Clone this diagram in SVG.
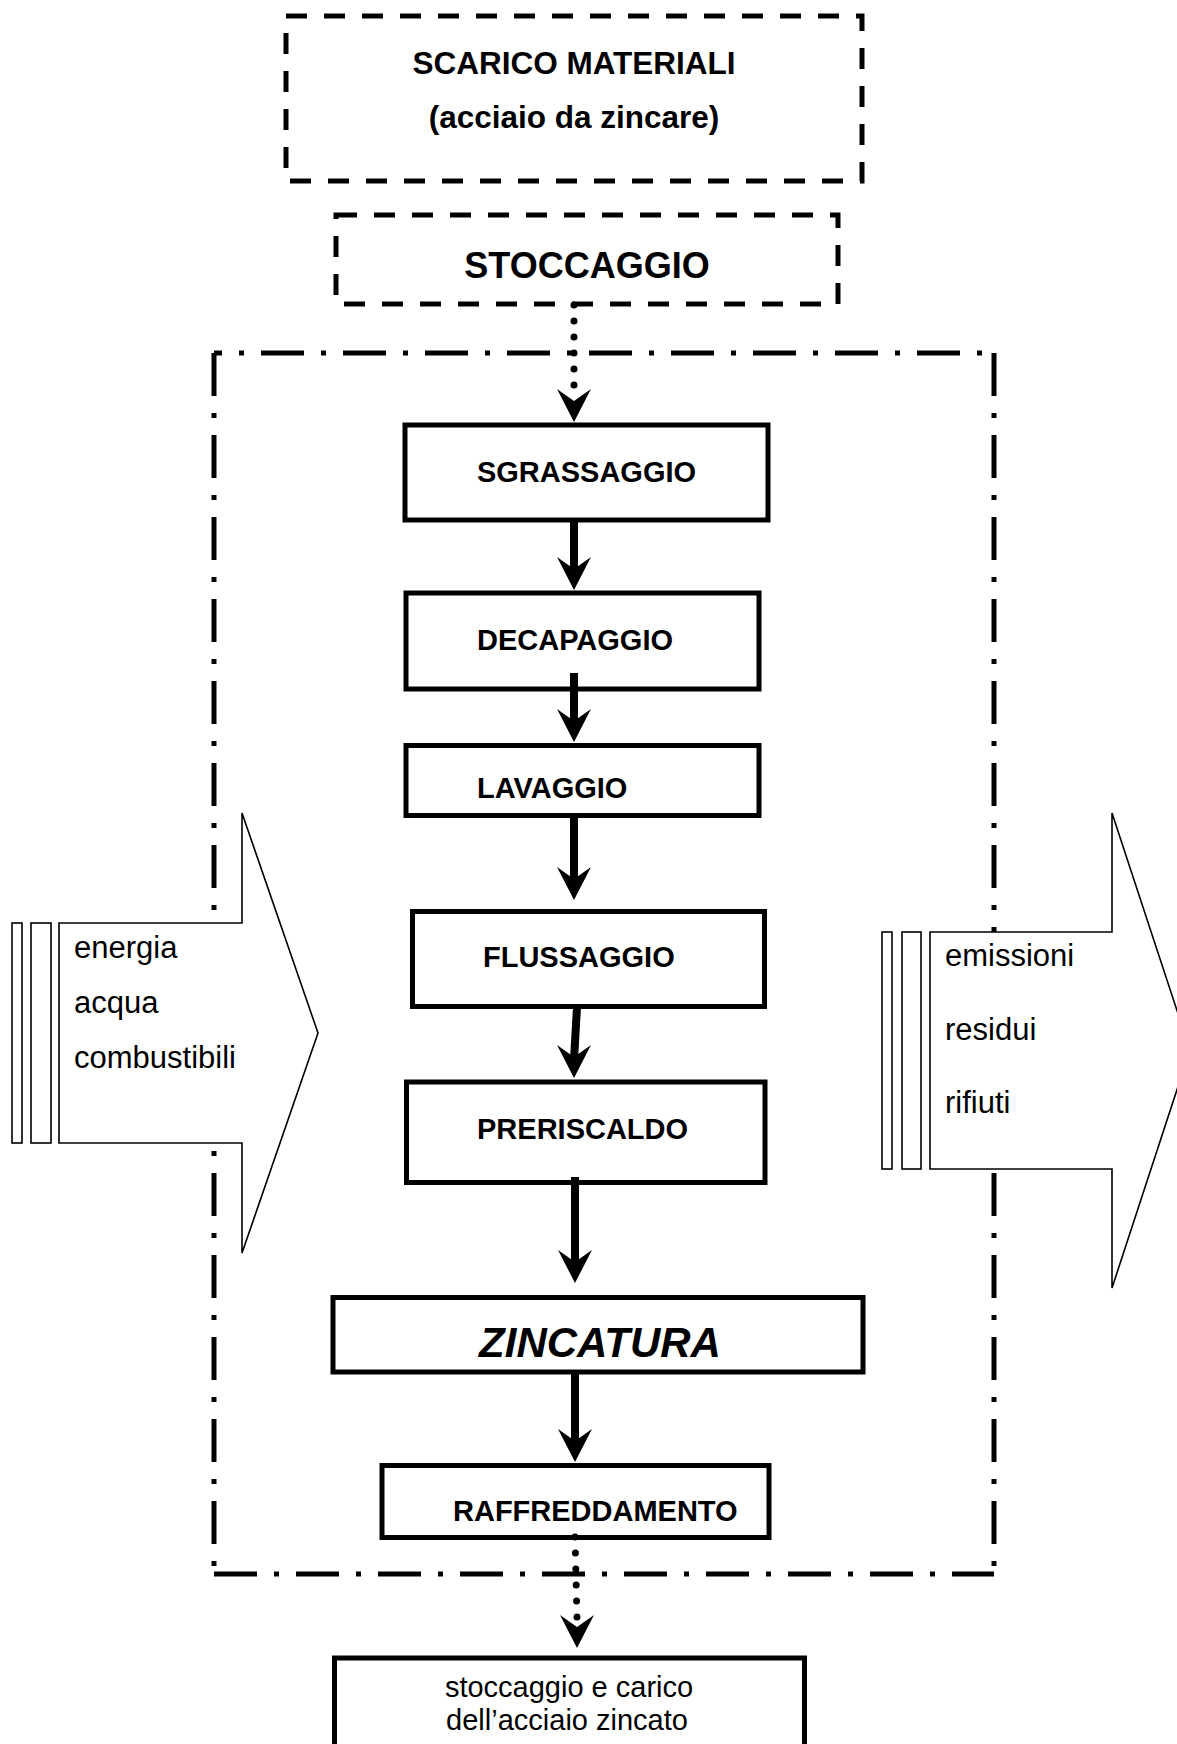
<svg xmlns="http://www.w3.org/2000/svg" xmlns:xlink="http://www.w3.org/1999/xlink" width="1177" height="1744" viewBox="0 0 1177 1744">
<style>
.dash{fill:#fff;stroke:#000;stroke-width:5;stroke-dasharray:21 17}
.box{fill:#fff;stroke:#000;stroke-width:5}
.frame{fill:none;stroke:#000;stroke-width:5;stroke-dasharray:43 17 5 17}
.big{fill:#fff;stroke:#000;stroke-width:1.6;stroke-linejoin:miter}
.lbl{font-family:"Liberation Sans",Arial,sans-serif;font-weight:bold;font-size:29px;fill:#000}
.io{font-family:"Liberation Sans",Arial,sans-serif;font-size:31px;fill:#000}
.reg{font-family:"Liberation Sans",Arial,sans-serif;font-size:29px;fill:#000}
.solid{stroke:#000;stroke-width:8;fill:none}
.dot{stroke:#000;stroke-width:7;stroke-linecap:round;stroke-dasharray:0 16;fill:none}
</style>
<defs>
<path id="ah" d="M-17,-33 L0,0 L17,-33 L0,-21 Z" fill="#000"/>
</defs>
<rect width="1177" height="1744" fill="#fff"/>
<g id="frame">
<line class="frame" x1="214" y1="353" x2="214" y2="1574"/>
<line class="frame" x1="994" y1="353" x2="994" y2="1574"/>
<line class="frame" x1="214" y1="353" x2="994" y2="353" stroke-dashoffset="35"/>
<line class="frame" x1="214" y1="1574" x2="994" y2="1574"/>
</g>
<g id="inputs">
<rect class="big" x="12" y="923" width="10" height="220"/>
<rect class="big" x="31" y="923" width="20" height="220"/>
<polygon class="big" points="59,923 242,923 242,813 318,1033 242,1253 242,1143 59,1143"/>
<text class="io" x="74" y="958">energia</text>
<text class="io" x="74" y="1013">acqua</text>
<text class="io" x="74" y="1068">combustibili</text>
</g>
<g id="outputs">
<rect class="big" x="882" y="932" width="10" height="237"/>
<rect class="big" x="902" y="932" width="19" height="237"/>
<polygon class="big" points="930,932 1112,932 1112,813 1190,1050 1112,1288 1112,1169 930,1169"/>
<text class="io" x="945" y="966">emissioni</text>
<text class="io" x="945" y="1040">residui</text>
<text class="io" x="945" y="1113">rifiuti</text>
</g>
<g id="scarico">
<rect class="dash" x="286" y="16" width="576" height="165"/>
<text class="lbl" style="font-size:31.5px" x="574" y="74" text-anchor="middle">SCARICO MATERIALI</text>
<text class="lbl" style="font-size:31.5px" x="574" y="128" text-anchor="middle">(acciaio da zincare)</text>
</g>
<g id="stoccaggio">
<rect class="dash" x="336" y="215" width="502" height="89"/>
<text class="lbl" style="font-size:36px" x="587" y="278" text-anchor="middle">STOCCAGGIO</text>
</g>
<g id="sgrassaggio">
<rect class="box" x="405" y="425" width="363" height="95"/>
<text class="lbl" x="586.5" y="482" text-anchor="middle">SGRASSAGGIO</text>
</g>
<g id="decapaggio">
<rect class="box" x="406" y="593" width="353" height="96"/>
<text class="lbl" x="477" y="650">DECAPAGGIO</text>
</g>
<g id="lavaggio">
<rect class="box" x="406" y="745.5" width="353" height="70"/>
<text class="lbl" x="477" y="798">LAVAGGIO</text>
</g>
<g id="flussaggio">
<rect class="box" x="412.5" y="911.5" width="352" height="95"/>
<text class="lbl" x="483" y="967">FLUSSAGGIO</text>
</g>
<g id="preriscaldo">
<rect class="box" x="406.5" y="1082" width="358.5" height="100.5"/>
<text class="lbl" x="477" y="1139">PRERISCALDO</text>
</g>
<g id="zincatura">
<rect class="box" x="333" y="1297.5" width="530" height="74.5"/>
<text class="lbl" style="font-size:42px;font-style:italic" x="600" y="1357" text-anchor="middle">ZINCATURA</text>
</g>
<g id="raffreddamento">
<rect class="box" x="382" y="1465.5" width="387" height="72"/>
<text class="lbl" x="453" y="1521">RAFFREDDAMENTO</text>
</g>
<g id="carico">
<rect class="box" x="334.5" y="1658" width="470" height="120"/>
<text class="reg" x="569" y="1697" text-anchor="middle">stoccaggio e carico</text>
<text class="reg" x="567" y="1730" text-anchor="middle">dell’acciaio zincato</text>
</g>
<g id="connectors">
<line class="dot" x1="574" y1="305" x2="574" y2="390"/>
<use xlink:href="#ah" x="574" y="422"/>
<line class="solid" x1="574" y1="520" x2="574" y2="572"/>
<use xlink:href="#ah" x="574" y="590"/>
<line class="solid" x1="574" y1="673" x2="574" y2="724"/>
<use xlink:href="#ah" x="574" y="742"/>
<line class="solid" x1="574" y1="817" x2="574" y2="882"/>
<use xlink:href="#ah" x="574" y="900"/>
<line class="solid" x1="577" y1="1007" x2="574" y2="1060"/>
<use xlink:href="#ah" x="574" y="1078"/>
<line class="solid" x1="575" y1="1177" x2="575" y2="1265"/>
<use xlink:href="#ah" x="575" y="1283"/>
<line class="solid" x1="575" y1="1370" x2="575" y2="1444"/>
<use xlink:href="#ah" x="575" y="1462"/>
<line class="dot" x1="575" y1="1537" x2="577" y2="1617"/>
<use xlink:href="#ah" x="577" y="1648"/>
</g>
</svg>
